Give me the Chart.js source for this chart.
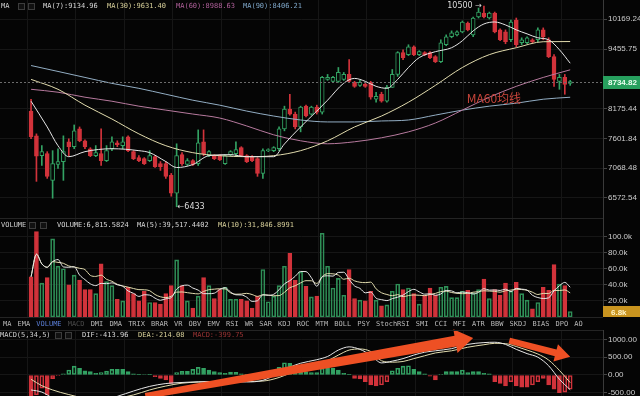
<!DOCTYPE html>
<html>
<head>
<meta charset="utf-8">
<script src="https://cdn.jsdelivr.net/npm/chart.js@4.4.1/dist/chart.umd.min.js"></script>
<style>
body { margin:0; background:#050505; width:640px; height:396px; overflow:hidden; position:relative; font-family:"DejaVu Sans Mono", monospace; }
canvas { position:absolute; left:0; }
.lg { position:absolute; font-size:7px; line-height:9px; white-space:pre; color:#cfcfcf; z-index:2; }
.ic { position:absolute; width:5px; height:5px; border:1px solid #3c3c3c; background:#111; z-index:2; }
.sep { position:absolute; left:0; width:603px; height:1px; background:#242424; z-index:1; }
#tabs { position:absolute; left:3px; top:320px; font-size:7px; line-height:9px; white-space:pre; z-index:2; }
#tabs span { margin-right:6.1px; color:#b8b8b8; }
</style>
</head>
<body>
<canvas id="price" width="640" height="218" style="top:0"></canvas>
<canvas id="vol" width="640" height="99" style="top:218px"></canvas>
<canvas id="macd" width="640" height="78" style="top:318px"></canvas>

<div class="sep" style="top:218px"></div>
<div class="sep" style="top:317px"></div>
<div class="sep" style="top:330px"></div>

<div class="lg" style="left:1px;top:2px">MA</div>
<div class="ic" style="left:18px;top:3px"></div>
<div class="ic" style="left:28px;top:3px"></div>
<div class="lg" style="left:43px;top:2px;color:#d8d8d8">MA(7):9134.96</div>
<div class="lg" style="left:107px;top:2px;color:#d8d09a">MA(30):9631.40</div>
<div class="lg" style="left:176px;top:2px;color:#b0609a">MA(60):8988.63</div>
<div class="lg" style="left:243px;top:2px;color:#7ea6c8">MA(90):8406.21</div>

<div class="lg" style="left:1px;top:221px">VOLUME</div>
<div class="ic" style="left:29px;top:222px"></div>
<div class="ic" style="left:40px;top:222px"></div>
<div class="lg" style="left:57px;top:221px;color:#d8d8d8">VOLUME:6,815.5824</div>
<div class="lg" style="left:137px;top:221px;color:#d8d8d8">MA(5):39,517.4402</div>
<div class="lg" style="left:218px;top:221px;color:#d8d09a">MA(10):31,846.8991</div>

<div id="tabs"><span>MA</span><span>EMA</span><span style="color:#5b7fd8">VOLUME</span><span style="color:#4a4a4a">MACD</span><span>DMI</span><span>DMA</span><span>TRIX</span><span>BRAR</span><span>VR</span><span>OBV</span><span>EMV</span><span>RSI</span><span>WR</span><span>SAR</span><span>KDJ</span><span>ROC</span><span>MTM</span><span>BOLL</span><span>PSY</span><span>StochRSI</span><span>SMI</span><span>CCI</span><span>MFI</span><span>ATR</span><span>BBW</span><span>SKDJ</span><span>BIAS</span><span>DPO</span><span>AO</span></div>

<div class="lg" style="left:0px;top:331px">MACD(5,34,5)</div>
<div class="ic" style="left:55px;top:332px"></div>
<div class="ic" style="left:65px;top:332px"></div>
<div class="lg" style="left:82px;top:331px;color:#d8d8d8">DIF:-413.96</div>
<div class="lg" style="left:138px;top:331px;color:#d8d09a">DEA:-214.08</div>
<div class="lg" style="left:193px;top:331px;color:#9c3434">MACD:-399.75</div>

<script>
// candles (oldest -> newest)
const opens = [8127,7650,7288,7324,6862,7132,7184,7540,7450,7781,7558,7413,7288,7324,7201,7413,7522,7468,7632,7360,
  7254,7236,7201,7270,7149,7149,6945,6649,7306,7132,7201,7149,7540,7288,7288,7288,7149,7306,7324,7432,
  7288,7270,7236,6979,7378,7378,7413,7781,8166,8068,7818,8225,8068,8205,8107,8781,8739,8739,8781,8888,
  8718,8654,8675,8718,8366,8468,8325,8612,8888,9373,9328,9510,9328,9373,9373,9283,9171,9556,9745,9790,
  9862,10078,9790,10226,10326,10201,10326,9910,9862,9673,10152,9603,9603,9673,9673,9910,9673,9283,8739,8823,8696];
const highs = [8366,7687,7470,7360,7378,7413,7650,7595,7856,7818,7577,7432,7470,7781,7470,7632,7558,7632,7650,7378,
  7288,7254,7378,7288,7184,7184,6979,7503,7342,7236,7218,7762,7762,7378,7306,7306,7306,7378,7540,7450,
  7306,7288,7254,7413,7413,7450,7818,8225,8468,8107,8225,8245,8225,8245,8845,8888,8845,9040,8931,9216,
  8739,8760,8696,8739,8510,8510,8654,8996,9396,9441,9556,9533,9418,9396,9396,9306,9673,9790,9886,9886,
  10128,10103,10226,10452,10500,10351,10351,9934,9910,10152,10201,9720,9745,9697,9958,9958,9720,9328,8888,8888,8760];
const lows = [7595,6845,7115,6895,6569,7063,6862,7288,7413,7540,7413,7270,7270,7115,7184,7378,7450,7413,7360,7218,
  7184,7132,7184,7080,7030,6895,6601,6433,7115,7115,7115,7115,7288,7270,7218,7201,7132,7288,7288,7270,
  7166,7184,6929,6895,7360,7360,7378,7744,8048,7781,7725,8010,8048,8068,8068,8760,8718,8718,8760,8718,
  8612,8633,8612,8366,8305,8305,8305,8612,8845,9216,9306,9306,9306,9306,9238,9149,9149,9533,9720,9765,
  9838,9886,9745,10201,10201,10177,9838,9650,9580,9627,9510,9556,9580,9603,9627,9673,9261,8633,8571,8468,8654];
const closes = [7632,7280,7360,6929,7149,7184,7360,7450,7744,7558,7450,7288,7342,7201,7378,7540,7485,7540,7378,7236,
  7201,7149,7288,7097,7097,6929,6649,7288,7149,7201,7132,7522,7324,7360,7236,7218,7288,7360,7396,7288,
  7184,7201,6979,7378,7396,7432,7781,8166,8068,7818,8205,8029,8205,8107,8823,8823,8823,8931,8888,8739,
  8633,8718,8633,8407,8427,8325,8612,8888,9373,9261,9510,9328,9396,9328,9261,9171,9603,9745,9838,9862,
  10103,9910,10201,10351,10226,10326,9862,9673,9627,10103,9556,9673,9720,9627,9910,9745,9283,8781,8823,8675,8734.82];

// volume in thousands
const volumes = [50,106,42,49,97,63,60,40,52,46,34,34,29,66,44,39,22,20,37,29,
  20,32,18,18,16,29,39,71,39,20,11,26,49,39,23,34,37,22,22,22,
  20,11,26,59,19,26,39,63,79,46,56,38,25,26,104,63,36,48,27,59,
  23,21,20,32,21,14,15,32,41,34,36,29,16,27,36,27,37,38,24,24,
  32,33,30,34,47,23,34,27,42,32,43,29,21,10,18,37,33,65,41,39,6.8];

// moving averages
const ma7Idx = [0,3,5,7,10,15,20,22,25,27,30,33,37,40,45,47,50,53,55,58,60,62,64,66,68,70,72,75,78,80,82,84,86,88,90,92,94,96,98,100];
const ma7 = [8325,7818,7468,7270,7360,7413,7378,7342,7184,7080,7132,7288,7306,7270,7270,7500,7818,8127,8346,8700,
  8802,8739,8633,8591,8781,9040,9261,9396,9487,9650,9886,10054,10103,10030,9910,9814,9720,9673,9441,9134.96];
const maIdx = [0,5,10,15,20,25,30,35,40,45,50,55,60,65,70,75,80,85,90,95,100];
const ma30 = [8781,8571,8245,7971,7687,7468,7342,7288,7270,7288,7378,7558,7818,8029,8305,8654,9040,9328,9487,9627,9631.40];
const ma60 = [8571,8510,8407,8325,8225,8146,8068,7990,7837,7669,7558,7503,7540,7614,7725,7894,8146,8407,8633,8823,8988.63];
const ma90 = [9083,8953,8823,8696,8591,8468,8346,8245,8127,8029,7952,7914,7914,7933,7952,8048,8146,8225,8285,8366,8406.21];

// MACD(5,34,5)
const macdHist = [-600,-560,-370,-560,-100,-20,30,140,250,190,120,95,50,65,110,160,160,160,95,30,
  20,15,10,-45,-95,-140,-235,65,100,100,160,215,190,140,95,65,45,85,75,35,
  10,-20,-30,5,20,60,215,345,330,190,140,95,65,65,190,190,190,140,45,10,
  -95,-110,-190,-280,-310,-280,-190,120,190,250,260,160,95,30,-30,-140,10,95,95,95,
  140,65,95,95,45,30,-190,-235,-310,-190,-310,-345,-345,-280,-190,-95,-280,-400,-495,-480,-399.75];
const macdIdx = [0,2,4,7,10,13,16,19,22,25,28,31,34,37,40,43,46,48,50,53,55,57,59,61,63,65,67,69,71,73,75,78,81,84,86,88,90,92,94,96,98,100];
const dif = [-420,-480,-640,-760,-780,-720,-600,-450,-320,-240,-210,-190,-185,-190,-195,-150,60,220,330,430,
  520,700,790,720,560,340,390,460,560,640,680,740,860,910,920,860,720,600,500,260,-120,-413.96];
const dea = [-120,-300,-420,-550,-650,-680,-650,-560,-420,-310,-230,-200,-190,-185,-180,-170,-70,50,170,300,
  400,560,700,730,660,400,360,380,460,540,620,680,780,850,890,880,800,700,590,420,130,-214.08];

const priceTicks = [6572.54,7068.48,7601.84,8175.44,9455.75,10169.24];
const volTicks = [20,40,60,80,100];
const macdTicks = [-500,0,500,1000];
const xGrid = [3.8,12.8,21.8,30.8,39.8,48.8,57.8,66.8,75.8,84.8,93.8];

// hand-drawn notes on the screenshot, in data units
const noteText = {text: 'MA60均线', i: 80.8, price: 8390};
const macdArrows = [
  {from: [21.2, -590], to: [82, 1040], w0: 6, w1: 11, head: 18, half: 12},
  {from: [88.7, 963], to: [100, 514], w0: 6, w1: 7, head: 15, half: 9}
];

const RED = '#d2333b', GREEN = '#33a263', BG = '#050505';
const up = closes.map((c, i) => c >= opens[i]);

const xScale = {
  type: 'linear', min: -0.675, max: 101,
  afterBuildTicks: s => { s.ticks = xGrid.map(v => ({value: v})); },
  afterFit: s => { s.height = 0; s.paddingLeft = 0; s.paddingRight = 0; },
  ticks: {display: false},
  grid: {color: '#161616', drawTicks: false},
  border: {display: false}
};
function yScale(extra, ticks, fmt) {
  return Object.assign({
    position: 'right',
    afterBuildTicks: s => { s.ticks = ticks.map(v => ({value: v})); },
    afterFit: s => { s.width = 37; s.paddingTop = 0; s.paddingBottom = 0; },
    ticks: {color: '#cdcdcd', font: {size: 8, family: 'Liberation Sans'}, padding: 1, callback: fmt},
    grid: {color: '#161616', tickLength: 4, tickColor: '#444'},
    border: {color: '#3a3a3a'}
  }, extra);
}
const base = {
  animation: false, responsive: false, events: [],
  plugins: {legend: {display: false}, tooltip: {enabled: false}}
};
function pts(idx, vals) { return idx.map((i, k) => ({x: i, y: vals[k]})); }
function line(data, color, order) {
  return {type: 'line', data, borderColor: color, borderWidth: 1, pointRadius: 0,
    cubicInterpolationMode: 'monotone', order};
}

// ---------- price ----------
const priceOverlay = {
  id: 'priceOverlay',
  afterDatasetsDraw(c) {
    const {ctx, chartArea: a, scales: {x, y}} = c;
    const py = Math.round(y.getPixelForValue(closes[closes.length - 1])) + 0.5;
    ctx.save();
    ctx.strokeStyle = '#6c6c6c'; ctx.lineWidth = 1; ctx.setLineDash([2, 2]);
    ctx.beginPath(); ctx.moveTo(a.left, py); ctx.lineTo(a.right, py); ctx.stroke();
    ctx.setLineDash([]);
    ctx.font = '8px "DejaVu Sans"'; ctx.fillStyle = '#dcdcdc'; ctx.textBaseline = 'middle';
    const hi = Math.max(...highs), hiI = highs.indexOf(hi);
    const lo = Math.min(...lows), loI = lows.indexOf(lo);
    ctx.textAlign = 'right';
    ctx.fillText(hi + ' →', x.getPixelForValue(hiI) - 2, y.getPixelForValue(hi));
    ctx.textAlign = 'left';
    ctx.fillText('←' + lo, x.getPixelForValue(loI) + 1, y.getPixelForValue(lo));
    ctx.font = '12px "Noto Sans CJK SC"'; ctx.fillStyle = '#c8453b';
    ctx.fillText(noteText.text, x.getPixelForValue(noteText.i), y.getPixelForValue(noteText.price));
    ctx.restore();
  },
  afterDraw(c) {
    const {ctx, chartArea: a, scales: {y}} = c;
    const last = closes[closes.length - 1];
    const py = Math.round(y.getPixelForValue(last));
    ctx.save();
    ctx.fillStyle = '#27a05e';
    ctx.fillRect(a.right, py - 6, 640 - a.right, 13);
    ctx.fillStyle = '#eafff0'; ctx.font = 'bold 8px "Liberation Sans"';
    ctx.textBaseline = 'middle'; ctx.textAlign = 'left';
    ctx.fillText(last.toFixed(2), a.right + 5, py + 0.5);
    ctx.restore();
  }
};

new Chart(document.getElementById('price'), {
  type: 'bar',
  data: {datasets: [
    line(pts(ma7Idx, ma7), '#e6e6e6', 1),
    line(pts(maIdx, ma30), '#e2dcae', 1),
    line(pts(maIdx, ma60), '#b77a9e', 2),
    line(pts(maIdx, ma90), '#93aec4', 2),
    {data: opens.map((o, i) => ({x: i, y: [o, closes[i]]})),
     backgroundColor: up.map(u => u ? BG : RED), borderColor: up.map(u => u ? GREEN : RED),
     borderWidth: 1, borderSkipped: false, barThickness: 4, minBarLength: 1, grouped: false, order: 4},
    {data: lows.map((l, i) => ({x: i, y: [l, highs[i]]})),
     backgroundColor: up.map(u => u ? GREEN : RED), borderWidth: 0,
     barThickness: 1, grouped: false, order: 5}
  ]},
  options: Object.assign({}, base, {
    layout: {padding: 0},
    scales: {
      x: xScale,
      y: yScale({type: 'logarithmic', min: 6259, max: 10660}, priceTicks, v => Number(v).toFixed(2))
    }
  }),
  plugins: [priceOverlay]
});

// ---------- volume ----------
function movingAvg(arr, n) {
  return arr.map((_, i) => {
    const s = arr.slice(Math.max(0, i - n + 1), i + 1);
    return s.reduce((p, q) => p + q, 0) / s.length;
  });
}
const volMa5 = movingAvg(volumes, 5), volMa10 = movingAvg(volumes, 10);
const volTag = {
  id: 'volTag',
  afterDraw(c) {
    const {ctx, chartArea: a, scales: {y}} = c;
    const last = volumes[volumes.length - 1];
    const py = Math.round(y.getPixelForValue(last));
    ctx.save();
    ctx.fillStyle = '#c9941f';
    ctx.fillRect(a.right, py - 6, 640 - a.right, 13);
    ctx.fillStyle = '#fff4c8'; ctx.font = 'bold 8px "Liberation Sans"';
    ctx.textBaseline = 'middle'; ctx.textAlign = 'left';
    ctx.fillText(last.toFixed(1) + 'k', a.right + 8, py + 0.5);
    ctx.restore();
  }
};
new Chart(document.getElementById('vol'), {
  type: 'bar',
  data: {datasets: [
    line(volMa5.map((v, i) => ({x: i, y: v})), '#e6e6e6', 1),
    line(volMa10.map((v, i) => ({x: i, y: v})), '#e2dcae', 1),
    {data: volumes.map((v, i) => ({x: i, y: v})),
     backgroundColor: up.map(u => u ? 'rgba(0,0,0,0)' : RED), borderColor: up.map(u => u ? '#2f8f57' : RED),
     borderWidth: 1, borderSkipped: false, barThickness: 4, grouped: false, order: 4}
  ]},
  options: Object.assign({}, base, {
    layout: {padding: 0},
    scales: {
      x: xScale,
      y: yScale({min: 0, max: 123}, volTicks, v => Number(v).toFixed(1) + 'k')
    }
  }),
  plugins: [volTag]
});

// ---------- MACD ----------
const arrowPlugin = {
  id: 'arrows',
  afterDatasetsDraw(c) {
    const {ctx, scales: {x, y}} = c;
    ctx.save();
    ctx.fillStyle = '#ee5024';
    macdArrows.forEach(a => {
      const x0 = x.getPixelForValue(a.from[0]), y0 = y.getPixelForValue(a.from[1]);
      const x1 = x.getPixelForValue(a.to[0]), y1 = y.getPixelForValue(a.to[1]);
      const len = Math.hypot(x1 - x0, y1 - y0), ux = (x1 - x0) / len, uy = (y1 - y0) / len;
      const nx = -uy, ny = ux;
      const hx = x1 - ux * a.head, hy = y1 - uy * a.head;
      ctx.beginPath();
      ctx.moveTo(x0 + nx * a.w0 / 2, y0 + ny * a.w0 / 2);
      ctx.lineTo(hx + nx * a.w1 / 2, hy + ny * a.w1 / 2);
      ctx.lineTo(hx + nx * a.half, hy + ny * a.half);
      ctx.lineTo(x1, y1);
      ctx.lineTo(hx - nx * a.half, hy - ny * a.half);
      ctx.lineTo(hx - nx * a.w1 / 2, hy - ny * a.w1 / 2);
      ctx.lineTo(x0 - nx * a.w0 / 2, y0 - ny * a.w0 / 2);
      ctx.closePath();
      ctx.fill();
    });
    ctx.restore();
  }
};
const hollow = macdHist.map((v, i) => i > 0 && v > macdHist[i - 1]);
new Chart(document.getElementById('macd'), {
  type: 'bar',
  data: {datasets: [
    line(pts(macdIdx, dif), '#e6e6e6', 1),
    line(pts(macdIdx, dea), '#e2dcae', 1),
    {data: macdHist.map((v, i) => ({x: i, y: v})),
     backgroundColor: macdHist.map((v, i) => hollow[i] ? 'rgba(0,0,0,0)' : (v >= 0 ? GREEN : RED)),
     borderColor: macdHist.map(v => v >= 0 ? GREEN : RED),
     borderWidth: 1, borderSkipped: false, barThickness: 4, grouped: false, order: 4}
  ]},
  options: Object.assign({}, base, {
    layout: {padding: {top: 12, left: 0, right: 0, bottom: 0}},
    scales: {
      x: xScale,
      y: yScale({min: -590, max: 1264}, macdTicks, v => Number(v).toFixed(2))
    }
  }),
  plugins: [arrowPlugin]
});
</script>
</body>
</html>
